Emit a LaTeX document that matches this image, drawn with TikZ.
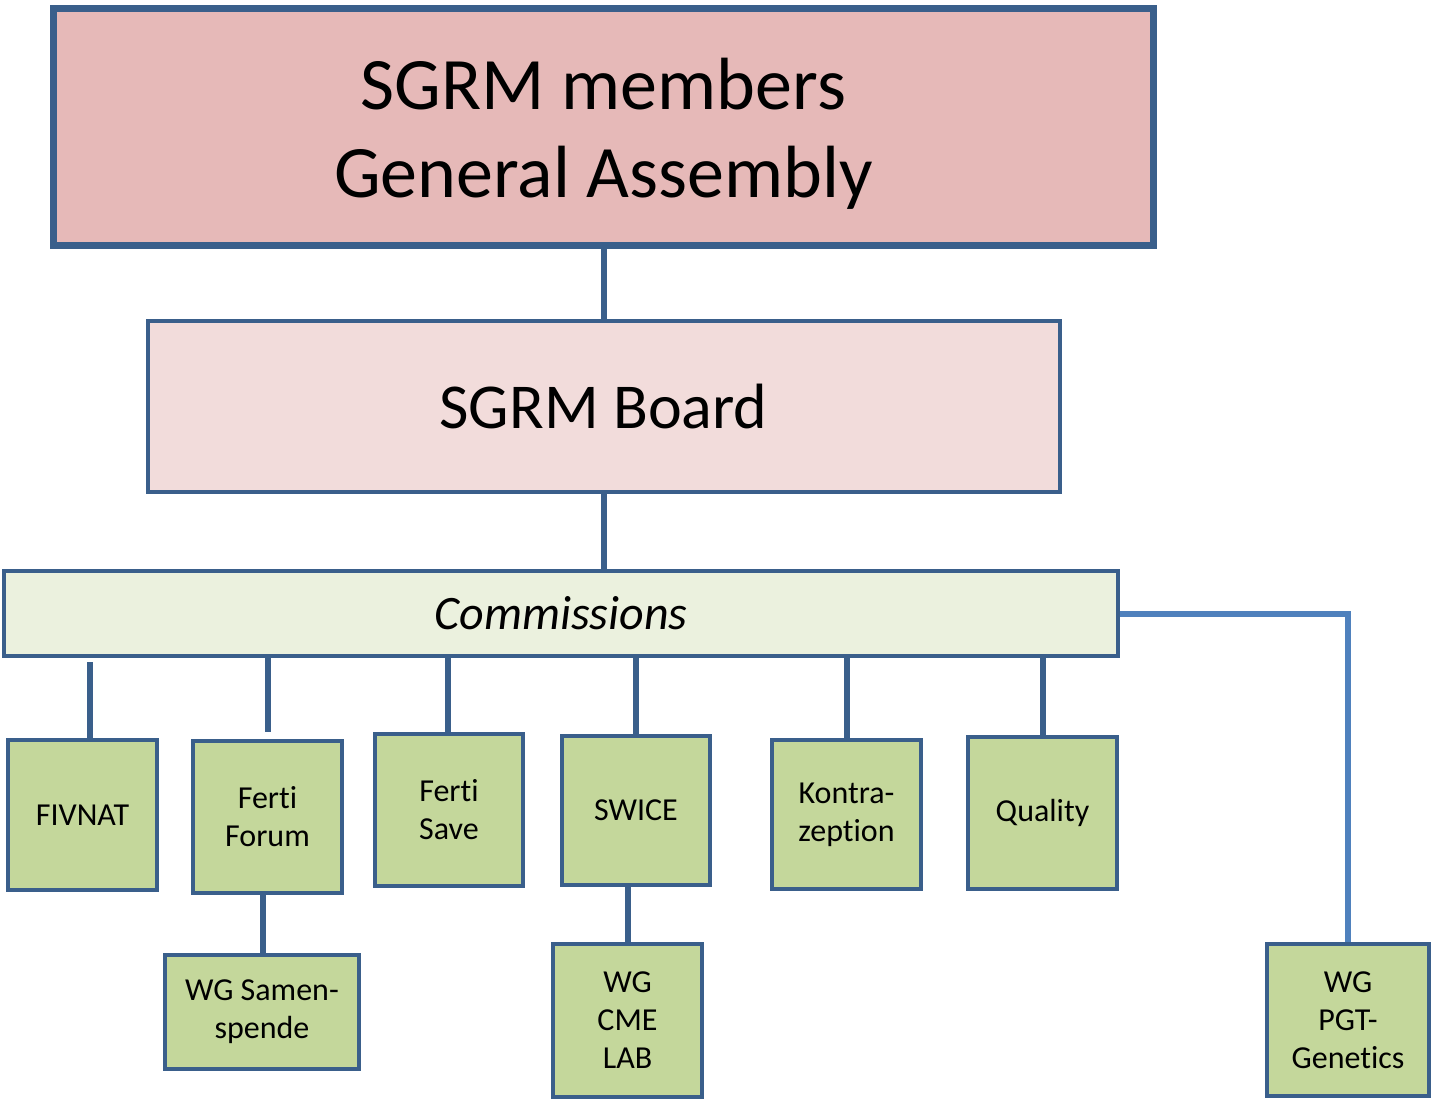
\documentclass[tikz,border=0pt]{standalone}
\usepackage{fontspec}
\setmainfont{Carlito}[Ligatures=NoCommon]
\definecolor{bord}{HTML}{3A5F8B}
\definecolor{pgtline}{HTML}{4F81BD}
\definecolor{topfill}{HTML}{E6B9B8}
\definecolor{boardfill}{HTML}{F2DCDB}
\definecolor{commfill}{HTML}{EBF1DE}
\definecolor{wgfill}{HTML}{C4D79B}
\tikzset{
  bigbox/.style={draw=bord, rectangle, inner sep=0pt, align=center},
  smallbox/.style={draw=bord, fill=wgfill, line width=4pt, rectangle, inner sep=0pt, align=center,
    font=\fontsize{32}{38}\selectfont},
  conn/.style={draw=bord, line width=6pt},
}
\begin{document}
\begin{tikzpicture}[x=1pt,y=-1pt]
\useasboundingbox (0,0) rectangle (1431,1100);
% top levels
\node[bigbox, fill=topfill, line width=7pt, minimum width=1100pt, minimum height=237pt] (ga) at (603.5,127) {};
\node[align=center, inner sep=0pt, font=\fontsize{74}{88}\selectfont] (gatext) at (603.5,134) {SGRM members\\General Assembly};
\node[bigbox, fill=boardfill, line width=4pt, minimum width=912pt, minimum height=171pt,
  font=\fontsize{64}{76}\selectfont] (board) at (603.5,406.5) {SGRM Board};
\node[bigbox, fill=commfill, line width=4pt, minimum width=1114pt, minimum height=85pt,
  font=\fontsize{48}{56}\selectfont\itshape] (comm) at (561,613.5) {Commissions};
% small boxes
\node[smallbox, minimum width=149pt, minimum height=150pt] (fivnat) at (82.5,815) {FIVNAT};
\node[smallbox, minimum width=149pt, minimum height=152pt] (forum) at (267.5,817) {Ferti\\Forum};
\node[smallbox, minimum width=194pt, minimum height=114pt] (samen) at (262,1012) {WG Samen-\\spende};
\node[smallbox, minimum width=148pt, minimum height=152pt] (save) at (449,810) {Ferti\\Save};
\node[smallbox, minimum width=148pt, minimum height=149pt] (swice) at (636,810.5) {SWICE};
\node[smallbox, minimum width=149pt, minimum height=153pt] (cme) at (627.5,1020.5) {WG\\CME\\LAB};
\node[smallbox, minimum width=149pt, minimum height=149pt] (kontra) at (846.5,814.5) {Kontra-\\zeption};
\node[smallbox, minimum width=149pt, minimum height=152pt] (quality) at (1042.5,813) {Quality};
\node[smallbox, minimum width=162pt, minimum height=152pt] (pgt) at (1348,1020) {WG\\PGT-\\Genetics};
% helper coordinates
\coordinate (xfiv) at (90,0);
\coordinate (xsave) at (448,0);
\coordinate (xsamen) at (263,0);
% connectors
\draw[conn] (ga.south) -- (board.north);
\draw[conn] (board.south) -- (board.south |- comm.north);
\draw[conn, shorten <=4pt] (comm.south -| xfiv) -- (xfiv |- fivnat.north);
\draw[conn, shorten >=7pt] (comm.south -| forum.north) -- (forum.north);
\draw[conn] (comm.south -| xsave) -- (xsave |- save.north);
\draw[conn] (comm.south -| swice.north) -- (swice.north);
\draw[conn] (comm.south -| kontra.north) -- (kontra.north);
\draw[conn] (comm.south -| quality.north) -- (quality.north);
\draw[conn] (xsamen |- forum.south) -- (xsamen |- samen.north);
\draw[conn] (cme.north |- swice.south) -- (cme.north);
\draw[draw=pgtline, line width=6pt, line join=miter] (comm.east) -- (comm.east -| pgt.north) -- (pgt.north);
\end{tikzpicture}
\end{document}
